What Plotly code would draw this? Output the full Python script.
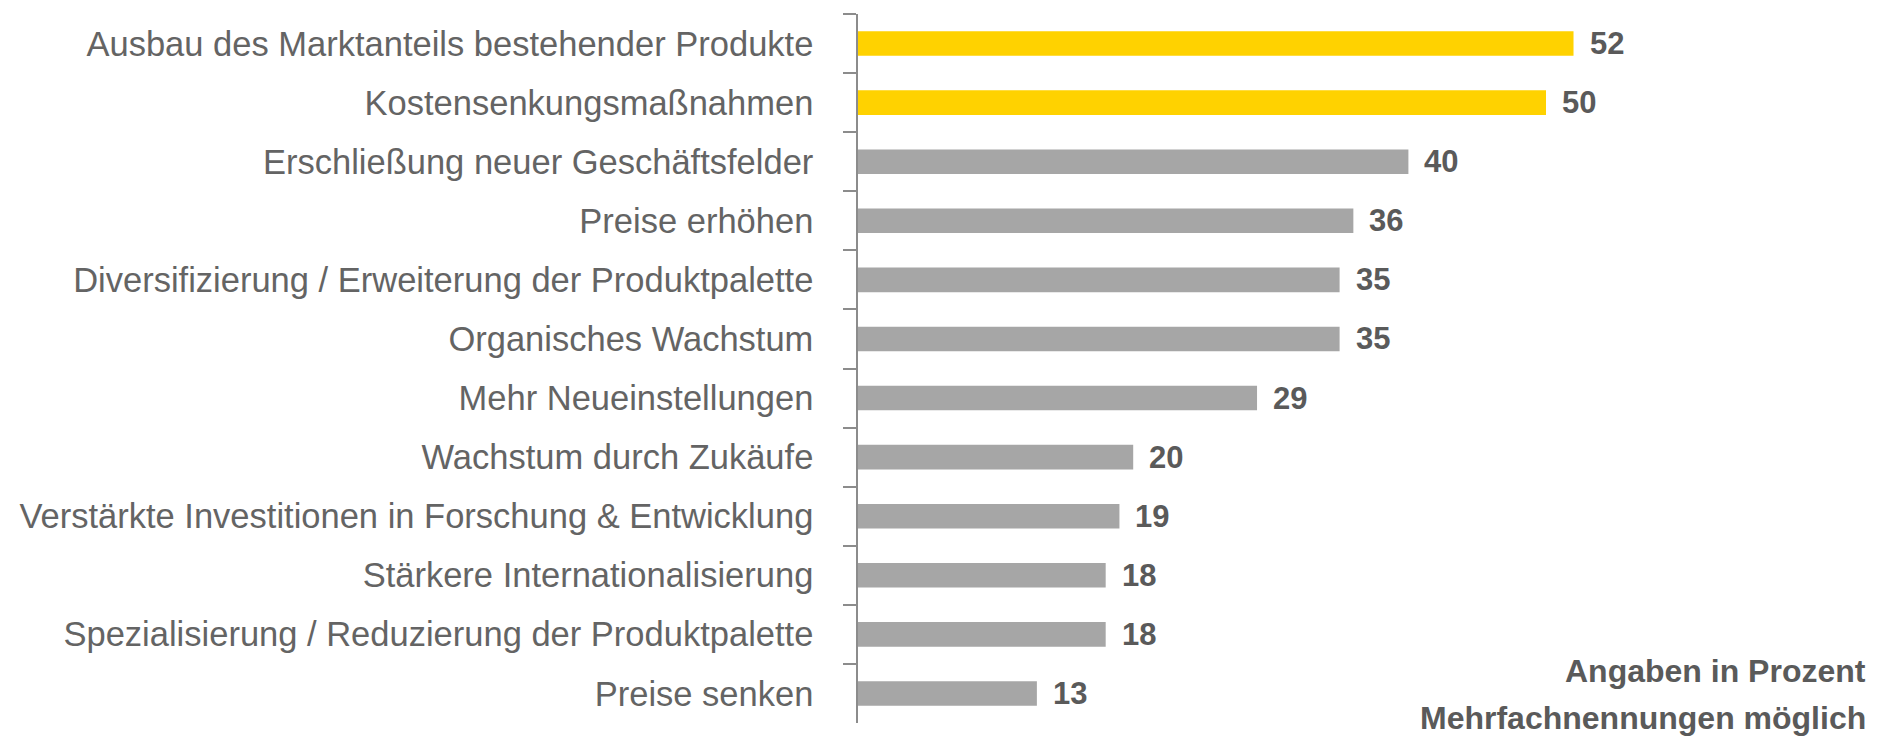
import plotly.graph_objects as go

# Survey answers, top to bottom as in the chart
categories = [
    "Ausbau des Marktanteils bestehender Produkte",
    "Kostensenkungsmaßnahmen",
    "Erschließung neuer Geschäftsfelder",
    "Preise erhöhen",
    "Diversifizierung / Erweiterung der Produktpalette",
    "Organisches Wachstum",
    "Mehr Neueinstellungen",
    "Wachstum durch Zukäufe",
    "Verstärkte Investitionen in Forschung & Entwicklung",
    "Stärkere Internationalisierung",
    "Spezialisierung / Reduzierung der Produktpalette",
    "Preise senken",
]
values = [52, 50, 40, 36, 35, 35, 29, 20, 19, 18, 18, 13]
highlighted = [True, True, False, False, False, False, False, False, False, False, False, False]

notes = ["Angaben in Prozent", "Mehrfachnennungen möglich"]

YELLOW = "#FFD200"
GREY = "#A6A6A6"
TEXT = "#646464"
NUM = "#5A5A5A"
FONT = "Liberation Sans, Arial, sans-serif"

colors = [YELLOW if h else GREY for h in highlighted]

fig = go.Figure(
    go.Bar(
        x=values,
        y=categories,
        orientation="h",
        marker=dict(color=colors, line=dict(width=0)),
        hoverinfo="skip",
    )
)

# value labels next to each bar
for cat, val in zip(categories, values):
    fig.add_annotation(
        x=val, y=cat, xref="x", yref="y",
        text=f"<b>{val}</b>", showarrow=False,
        xanchor="left", yanchor="middle", xshift=14,
        font=dict(family=FONT, size=31, color=NUM),
    )

# footnotes bottom right
for note, ypos in zip(notes, [0.073, 0.007]):
    fig.add_annotation(
        x=0.979, y=ypos, xref="paper", yref="paper",
        text=f"<b>{note}</b>", showarrow=False,
        xanchor="right", yanchor="middle",
        font=dict(family=FONT, size=32, color=NUM),
    )

fig.update_layout(
    width=1890,
    height=736,
    margin=dict(l=858, r=0, t=14, b=13),
    paper_bgcolor="white",
    plot_bgcolor="white",
    bargap=0.585,
    showlegend=False,
    xaxis=dict(
        range=[0, 75],
        visible=False,
        showgrid=False,
        zeroline=False,
    ),
    yaxis=dict(
        autorange="reversed",
        showline=True,
        linecolor="#8C8C8C",
        linewidth=1.5,
        ticks="outside",
        tickson="boundaries",
        ticklen=13,
        tickwidth=1.5,
        tickcolor="#8C8C8C",
        ticklabelstandoff=36,
        showgrid=False,
        tickfont=dict(family=FONT, size=34.5, color=TEXT),
    ),
)

# drop the default page margin so the figure fills the window exactly
fig.write_html(
    "out.html",
    config={"displayModeBar": False},
    post_script="document.body.style.margin='0';",
)
